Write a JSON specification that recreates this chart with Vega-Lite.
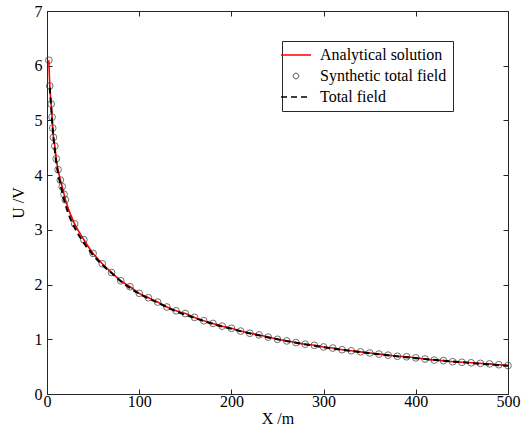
{
  "$schema": "https://vega.github.io/schema/vega-lite/v6.json",
  "width": 461,
  "height": 383,
  "autosize": {"type": "none"},
  "padding": {"left": 47, "top": 11, "right": 21, "bottom": 43},
  "background": "#ffffff",
  "config": {
    "view": {"stroke": "#262626", "strokeWidth": 1},
    "axis": {
      "grid": false,
      "domainColor": "#262626",
      "tickColor": "#262626",
      "tickSize": -5,
      "labelFont": "Liberation Serif",
      "labelFontSize": 16,
      "labelColor": "#000000",
      "titleFont": "Liberation Serif",
      "titleFontSize": 16,
      "titleFontWeight": "normal",
      "titleColor": "#000000"
    }
  },
  "data": {
    "values": [
      {"x": 2, "U": 6.10, "series": "Analytical solution"},
      {"x": 3, "U": 5.63, "series": "Analytical solution"},
      {"x": 4.5, "U": 5.30, "series": "Analytical solution"},
      {"x": 5.5, "U": 5.06, "series": "Analytical solution"},
      {"x": 6.2, "U": 4.86, "series": "Analytical solution"},
      {"x": 7, "U": 4.69, "series": "Analytical solution"},
      {"x": 8.5, "U": 4.53, "series": "Analytical solution"},
      {"x": 10, "U": 4.30, "series": "Analytical solution"},
      {"x": 12, "U": 4.10, "series": "Analytical solution"},
      {"x": 14.5, "U": 3.91, "series": "Analytical solution"},
      {"x": 16.5, "U": 3.79, "series": "Analytical solution"},
      {"x": 18.5, "U": 3.65, "series": "Analytical solution"},
      {"x": 20, "U": 3.55, "series": "Analytical solution"},
      {"x": 30, "U": 3.11, "series": "Analytical solution"},
      {"x": 40, "U": 2.82, "series": "Analytical solution"},
      {"x": 50, "U": 2.57, "series": "Analytical solution"},
      {"x": 60, "U": 2.38, "series": "Analytical solution"},
      {"x": 70, "U": 2.22, "series": "Analytical solution"},
      {"x": 80, "U": 2.07, "series": "Analytical solution"},
      {"x": 90, "U": 1.96, "series": "Analytical solution"},
      {"x": 100, "U": 1.84, "series": "Analytical solution"},
      {"x": 110, "U": 1.76, "series": "Analytical solution"},
      {"x": 120, "U": 1.68, "series": "Analytical solution"},
      {"x": 130, "U": 1.59, "series": "Analytical solution"},
      {"x": 140, "U": 1.52, "series": "Analytical solution"},
      {"x": 150, "U": 1.47, "series": "Analytical solution"},
      {"x": 160, "U": 1.40, "series": "Analytical solution"},
      {"x": 170, "U": 1.34, "series": "Analytical solution"},
      {"x": 180, "U": 1.29, "series": "Analytical solution"},
      {"x": 190, "U": 1.24, "series": "Analytical solution"},
      {"x": 200, "U": 1.20, "series": "Analytical solution"},
      {"x": 210, "U": 1.15, "series": "Analytical solution"},
      {"x": 220, "U": 1.11, "series": "Analytical solution"},
      {"x": 230, "U": 1.08, "series": "Analytical solution"},
      {"x": 240, "U": 1.04, "series": "Analytical solution"},
      {"x": 250, "U": 1.00, "series": "Analytical solution"},
      {"x": 260, "U": 0.97, "series": "Analytical solution"},
      {"x": 270, "U": 0.94, "series": "Analytical solution"},
      {"x": 280, "U": 0.91, "series": "Analytical solution"},
      {"x": 290, "U": 0.89, "series": "Analytical solution"},
      {"x": 300, "U": 0.86, "series": "Analytical solution"},
      {"x": 310, "U": 0.84, "series": "Analytical solution"},
      {"x": 320, "U": 0.81, "series": "Analytical solution"},
      {"x": 330, "U": 0.79, "series": "Analytical solution"},
      {"x": 340, "U": 0.77, "series": "Analytical solution"},
      {"x": 350, "U": 0.75, "series": "Analytical solution"},
      {"x": 360, "U": 0.73, "series": "Analytical solution"},
      {"x": 370, "U": 0.71, "series": "Analytical solution"},
      {"x": 380, "U": 0.69, "series": "Analytical solution"},
      {"x": 390, "U": 0.68, "series": "Analytical solution"},
      {"x": 400, "U": 0.66, "series": "Analytical solution"},
      {"x": 410, "U": 0.64, "series": "Analytical solution"},
      {"x": 420, "U": 0.62, "series": "Analytical solution"},
      {"x": 430, "U": 0.61, "series": "Analytical solution"},
      {"x": 440, "U": 0.59, "series": "Analytical solution"},
      {"x": 450, "U": 0.58, "series": "Analytical solution"},
      {"x": 460, "U": 0.57, "series": "Analytical solution"},
      {"x": 470, "U": 0.56, "series": "Analytical solution"},
      {"x": 480, "U": 0.55, "series": "Analytical solution"},
      {"x": 490, "U": 0.535, "series": "Analytical solution"},
      {"x": 500, "U": 0.52, "series": "Analytical solution"},

      {"x": 2, "U": 6.10, "series": "Synthetic total field"},
      {"x": 3, "U": 5.63, "series": "Synthetic total field"},
      {"x": 4.5, "U": 5.30, "series": "Synthetic total field"},
      {"x": 5.5, "U": 5.06, "series": "Synthetic total field"},
      {"x": 6.2, "U": 4.86, "series": "Synthetic total field"},
      {"x": 7, "U": 4.69, "series": "Synthetic total field"},
      {"x": 8.5, "U": 4.53, "series": "Synthetic total field"},
      {"x": 10, "U": 4.30, "series": "Synthetic total field"},
      {"x": 12, "U": 4.10, "series": "Synthetic total field"},
      {"x": 14.5, "U": 3.91, "series": "Synthetic total field"},
      {"x": 16.5, "U": 3.79, "series": "Synthetic total field"},
      {"x": 18.5, "U": 3.65, "series": "Synthetic total field"},
      {"x": 20, "U": 3.55, "series": "Synthetic total field"},
      {"x": 30, "U": 3.11, "series": "Synthetic total field"},
      {"x": 40, "U": 2.82, "series": "Synthetic total field"},
      {"x": 50, "U": 2.57, "series": "Synthetic total field"},
      {"x": 60, "U": 2.38, "series": "Synthetic total field"},
      {"x": 70, "U": 2.22, "series": "Synthetic total field"},
      {"x": 80, "U": 2.07, "series": "Synthetic total field"},
      {"x": 90, "U": 1.96, "series": "Synthetic total field"},
      {"x": 100, "U": 1.84, "series": "Synthetic total field"},
      {"x": 110, "U": 1.76, "series": "Synthetic total field"},
      {"x": 120, "U": 1.68, "series": "Synthetic total field"},
      {"x": 130, "U": 1.59, "series": "Synthetic total field"},
      {"x": 140, "U": 1.52, "series": "Synthetic total field"},
      {"x": 150, "U": 1.47, "series": "Synthetic total field"},
      {"x": 160, "U": 1.40, "series": "Synthetic total field"},
      {"x": 170, "U": 1.34, "series": "Synthetic total field"},
      {"x": 180, "U": 1.29, "series": "Synthetic total field"},
      {"x": 190, "U": 1.24, "series": "Synthetic total field"},
      {"x": 200, "U": 1.20, "series": "Synthetic total field"},
      {"x": 210, "U": 1.15, "series": "Synthetic total field"},
      {"x": 220, "U": 1.11, "series": "Synthetic total field"},
      {"x": 230, "U": 1.08, "series": "Synthetic total field"},
      {"x": 240, "U": 1.04, "series": "Synthetic total field"},
      {"x": 250, "U": 1.00, "series": "Synthetic total field"},
      {"x": 260, "U": 0.97, "series": "Synthetic total field"},
      {"x": 270, "U": 0.94, "series": "Synthetic total field"},
      {"x": 280, "U": 0.91, "series": "Synthetic total field"},
      {"x": 290, "U": 0.89, "series": "Synthetic total field"},
      {"x": 300, "U": 0.86, "series": "Synthetic total field"},
      {"x": 310, "U": 0.84, "series": "Synthetic total field"},
      {"x": 320, "U": 0.81, "series": "Synthetic total field"},
      {"x": 330, "U": 0.79, "series": "Synthetic total field"},
      {"x": 340, "U": 0.77, "series": "Synthetic total field"},
      {"x": 350, "U": 0.75, "series": "Synthetic total field"},
      {"x": 360, "U": 0.73, "series": "Synthetic total field"},
      {"x": 370, "U": 0.71, "series": "Synthetic total field"},
      {"x": 380, "U": 0.69, "series": "Synthetic total field"},
      {"x": 390, "U": 0.68, "series": "Synthetic total field"},
      {"x": 400, "U": 0.66, "series": "Synthetic total field"},
      {"x": 410, "U": 0.64, "series": "Synthetic total field"},
      {"x": 420, "U": 0.62, "series": "Synthetic total field"},
      {"x": 430, "U": 0.61, "series": "Synthetic total field"},
      {"x": 440, "U": 0.59, "series": "Synthetic total field"},
      {"x": 450, "U": 0.58, "series": "Synthetic total field"},
      {"x": 460, "U": 0.57, "series": "Synthetic total field"},
      {"x": 470, "U": 0.56, "series": "Synthetic total field"},
      {"x": 480, "U": 0.55, "series": "Synthetic total field"},
      {"x": 490, "U": 0.535, "series": "Synthetic total field"},
      {"x": 500, "U": 0.52, "series": "Synthetic total field"},

      {"x": 3, "U": 5.60, "series": "Total field"},
      {"x": 4.5, "U": 5.25, "series": "Total field"},
      {"x": 6, "U": 4.88, "series": "Total field"},
      {"x": 8, "U": 4.52, "series": "Total field"},
      {"x": 10, "U": 4.24, "series": "Total field"},
      {"x": 12, "U": 4.03, "series": "Total field"},
      {"x": 15, "U": 3.80, "series": "Total field"},
      {"x": 18, "U": 3.58, "series": "Total field"},
      {"x": 20, "U": 3.46, "series": "Total field"},
      {"x": 25, "U": 3.22, "series": "Total field"},
      {"x": 30, "U": 3.04, "series": "Total field"},
      {"x": 40, "U": 2.76, "series": "Total field"},
      {"x": 50, "U": 2.54, "series": "Total field"},
      {"x": 60, "U": 2.36, "series": "Total field"},
      {"x": 70, "U": 2.21, "series": "Total field"},
      {"x": 80, "U": 2.06, "series": "Total field"},
      {"x": 100, "U": 1.83, "series": "Total field"},
      {"x": 120, "U": 1.67, "series": "Total field"},
      {"x": 140, "U": 1.51, "series": "Total field"},
      {"x": 160, "U": 1.39, "series": "Total field"},
      {"x": 180, "U": 1.28, "series": "Total field"},
      {"x": 200, "U": 1.19, "series": "Total field"},
      {"x": 250, "U": 1.00, "series": "Total field"},
      {"x": 300, "U": 0.855, "series": "Total field"},
      {"x": 350, "U": 0.745, "series": "Total field"},
      {"x": 400, "U": 0.655, "series": "Total field"},
      {"x": 450, "U": 0.58, "series": "Total field"},
      {"x": 500, "U": 0.515, "series": "Total field"}
    ]
  },
  "resolve": {"axis": {"x": "independent", "y": "independent"}},
  "layer": [
    {
      "transform": [{"filter": "datum.series === 'Analytical solution'"}],
      "mark": {"type": "line", "strokeWidth": 1.6, "interpolate": "monotone"},
      "encoding": {
        "x": {"field": "x", "type": "quantitative", "scale": {"domain": [0, 500], "nice": false},
              "axis": {"values": [0, 100, 200, 300, 400, 500], "title": "X /m", "labelPadding": 4, "titlePadding": 1, "labelFlush": false}},
        "y": {"field": "U", "type": "quantitative", "scale": {"domain": [0, 7], "nice": false},
              "axis": {"values": [0, 1, 2, 3, 4, 5, 6, 7], "title": "U /V", "labelPadding": 10, "titlePadding": 8, "labelFlush": false}},
        "color": {"field": "series", "type": "nominal",
          "scale": {"domain": ["Analytical solution", "Synthetic total field", "Total field"], "range": ["#ff0000", "#333333", "#000000"]},
          "legend": {
            "orient": "none", "legendX": 235, "legendY": 30, "title": null,
            "strokeColor": "#262626", "fillColor": "#ffffff", "padding": 6,
            "labelFont": "Liberation Serif", "labelFontSize": 16, "labelColor": "#000000",
            "symbolSize": 900, "symbolType": "stroke", "symbolStrokeWidth": 1.5,
            "rowPadding": 5, "labelOffset": 16,
            "encode": {"symbols": {"update": {
              "shape": {"signal": "datum.value === 'Synthetic total field' ? 'circle' : 'stroke'"},
              "size": {"signal": "datum.value === 'Synthetic total field' ? 30 : 900"},
              "strokeDash": {"signal": "datum.value === 'Total field' ? [6, 4] : [1, 0]"},
              "strokeWidth": {"signal": "datum.value === 'Synthetic total field' ? 1 : 1.6"},
              "fill": {"value": "transparent"}
            }}}
          }}
      }
    },
    {
      "transform": [{"filter": "datum.series === 'Synthetic total field'"}],
      "mark": {"type": "point", "shape": "circle", "filled": false, "size": 45, "strokeWidth": 1},
      "encoding": {
        "x": {"field": "x", "type": "quantitative", "axis": {"orient": "top", "values": [0, 100, 200, 300, 400, 500], "labels": false, "title": null, "domain": false}},
        "y": {"field": "U", "type": "quantitative", "axis": {"orient": "right", "values": [0, 1, 2, 3, 4, 5, 6, 7], "labels": false, "title": null, "domain": false}},
        "color": {"field": "series", "type": "nominal"}
      }
    },
    {
      "transform": [{"filter": "datum.series === 'Total field'"}],
      "mark": {"type": "line", "strokeWidth": 2, "strokeDash": [6, 4], "interpolate": "monotone"},
      "encoding": {
        "x": {"field": "x", "type": "quantitative", "axis": null},
        "y": {"field": "U", "type": "quantitative", "axis": null},
        "color": {"field": "series", "type": "nominal"}
      }
    }
  ]
}
